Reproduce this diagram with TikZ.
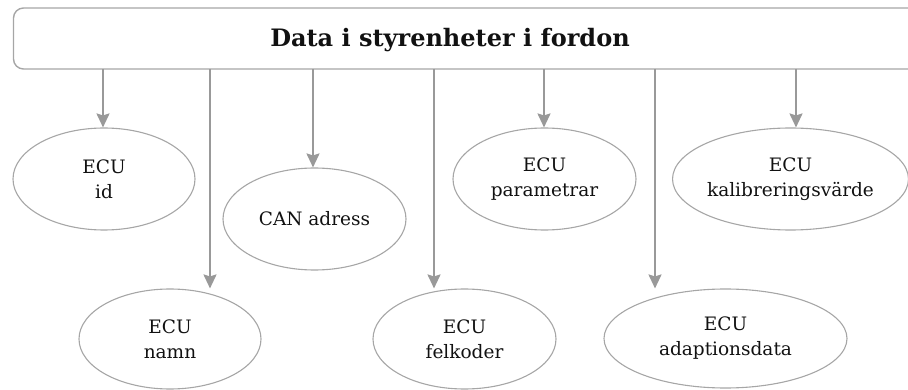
\documentclass[tikz,border=0pt]{standalone}
\usepackage{fontspec}
\setmainfont{DejaVu Serif}
\usetikzlibrary{shapes.geometric,arrows.meta}
\definecolor{linegray}{HTML}{999999}
\definecolor{edgegray}{HTML}{A6A6A6}
\definecolor{txt}{HTML}{111111}
\tikzset{
  ecu/.style={ellipse, draw=edgegray, line width=1.1pt, inner sep=0pt,
    align=center, text=txt, font=\fontsize{18.5}{25}\selectfont},
  conn/.style={draw=linegray, line width=2pt,
    -{Stealth[length=14pt,width=13pt,inset=2pt]}},
  titlebox/.style={draw=edgegray, line width=1.4pt, rounded corners=10pt}
}
\begin{document}
\begin{tikzpicture}[x=1pt,y=-1pt]
\useasboundingbox (0,0) rectangle (908,390);
\clip (0,0) rectangle (908,390);
\draw[titlebox] (13.5,8) rectangle (930,69);
\coordinate (boxbot) at (450,69);
\node[font=\fontsize{24}{27}\selectfont\bfseries, text=txt] (title) at (450,40) {Data i styrenheter i fordon};

\node[ecu, minimum width=182pt, minimum height=102pt] (id) at (104,179) {ECU\\id};
\node[ecu, minimum width=182pt, minimum height=100pt] (namn) at (170,339) {ECU\\namn};
\node[ecu, minimum width=183pt, minimum height=102pt] (can) at (314.5,219) {CAN adress};
\node[ecu, minimum width=183pt, minimum height=100pt] (felk) at (464.5,339) {ECU\\felkoder};
\node[ecu, minimum width=183pt, minimum height=102pt] (param) at (544.5,179) {ECU\\parametrar};
\node[ecu, minimum width=232pt, minimum height=102pt] (kalib) at (790.5,179) {ECU\\kalibreringsvärde};
\node[ecu, minimum width=243pt, minimum height=99pt] (adapt) at (725.5,338.5) {ECU\\adaptionsdata};

\foreach \n/\x in {id/103, namn/210, can/313, felk/434, param/544, adapt/655, kalib/796}{
  \draw[conn] (boxbot -| \x,0) -- (\x,0 |- \n.north);
}
\end{tikzpicture}
\end{document}
